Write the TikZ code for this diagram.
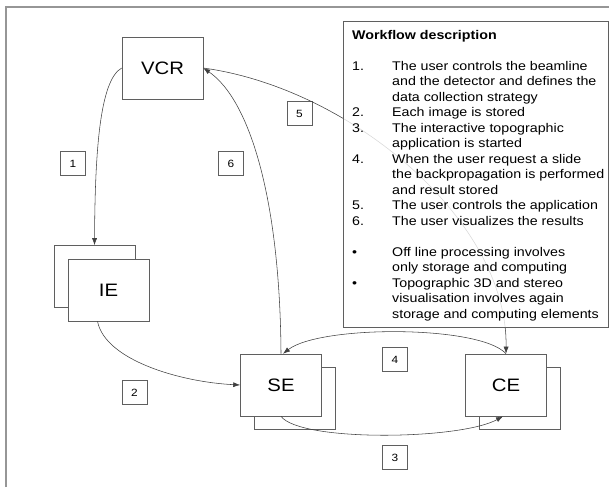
\documentclass[tikz,border=0pt]{standalone}
\usepackage{fontspec}
\setmainfont{Liberation Sans}[FakeStretch=1.13]
\usetikzlibrary{positioning,arrows.meta}
\definecolor{boxgray}{RGB}{95,95,95}
\definecolor{framegray}{RGB}{150,150,150}

\begin{document}
\begin{tikzpicture}[x=1pt, y=-1pt,
    box/.style={rectangle, draw=boxgray, line width=0.6pt, fill=white, minimum width=81pt, minimum height=62pt, font=\fontsize{18}{20}\selectfont},
    numbox/.style={rectangle, draw=boxgray, line width=0.6pt, fill=white, minimum width=25pt, minimum height=24pt, inner sep=0pt, font=\fontsize{10.5}{12}\selectfont},
    flow/.style={-{Latex[length=7pt,width=5pt]}, draw=black!75, line width=0.55pt}]
    \useasboundingbox (0,0) rectangle (609,487);
    \draw[framegray, line width=1.2pt] (6,487) -- (6,7) -- (609,7);

    % elements
    \node[box] (ieback) at (94.5,276.5) {};
    \node[box] (ie) at (108.5,290) {IE};
    \node[box] (vcr) at (162.5,68) {VCR};
    \node[box] (seback) at (294.5,398) {};
    \node[box] (se) at (281,385) {SE};
    \node[box] (ceback) at (519.5,398) {};
    \node[box] (ce) at (506,385) {CE};

    % steps
    \node[numbox] (n1) at (73,163.5) {1};
    \node[numbox] (n2) at (134.5,392.5) {2};
    \node[numbox] (n3) at (395,457.5) {3};
    \node[numbox] (n4) at (395,359.5) {4};
    \node[numbox] (n5) at (299.5,113.5) {5};
    \node[numbox] (n6) at (231,163.5) {6};

    \draw[flow] (vcr.west) .. controls (100,80) and (95,150) .. (ieback.north);
    \draw[flow] ([xshift=-11pt]ie.south) .. controls (105,360) and (180,382) .. (se.west);
    \draw[flow] (se.south) .. controls (300,442) and (460,440) .. ([xshift=-3pt]ce.south);
    \draw[flow] (ce.north) .. controls (480,325) and (320,325) .. ([xshift=2pt]se.north);
    \draw[flow] (vcr.east) .. controls (350,88) and (508,220) .. (ce.north);
    \draw[flow] (se.north) .. controls (280,200) and (250,100) .. (vcr.east);

    % description
    \node[draw=boxgray, line width=0.6pt, fill=white, fill opacity=0.8, text opacity=1, anchor=north west,
        minimum width=265pt, minimum height=306pt, inner sep=0pt] (wfbox) at (343,21) {};
    \node[anchor=north west, inner sep=0pt, align=left] (wftext) at (352,28) {%
        \fontsize{12.6}{15.5}\selectfont
        \begin{tabular}{@{}p{40pt}@{}l@{}}
        \multicolumn{2}{@{}l@{}}{\textbf{Workflow description}}\\
        & \\
        1. & The user controls the beamline\\
           & and the detector and defines the\\
           & data collection strategy\\
        2. & Each image is stored\\
        3. & The interactive topographic\\
           & application is started\\
        4. & When the user request a slide\\
           & the backpropagation is performed\\
           & and result stored\\
        5. & The user controls the application\\
        6. & The user visualizes the results\\
           & \\
        • & Off line processing involves\\
          & only storage and computing\\
        • & Topographic 3D and stereo\\
          & visualisation involves again\\
          & storage and computing elements
        \end{tabular}};
\end{tikzpicture}
\end{document}
